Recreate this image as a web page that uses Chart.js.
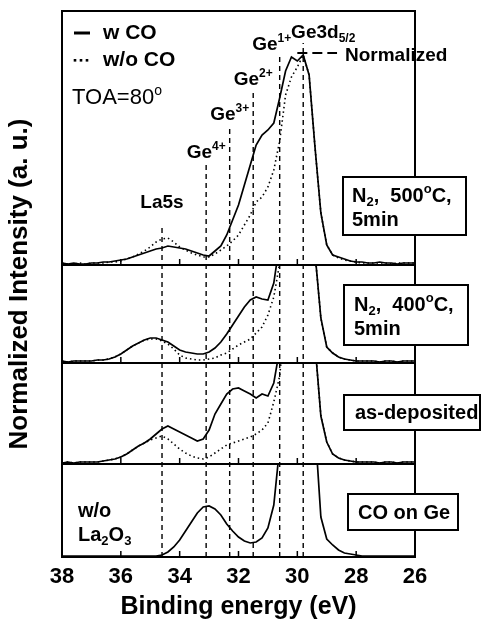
<!DOCTYPE html>
<html>
<head>
<meta charset="utf-8">
<script src="https://cdn.jsdelivr.net/npm/chart.js@4.4.0/dist/chart.umd.min.js"></script>
<style>
  html, body { margin: 0; padding: 0; background: #fff; }
</style>
</head>
<body>
<canvas id="myChart" width="483" height="623"></canvas>
<script>
// binding energy grid (eV)
var energy = [
  38.0, 37.8, 37.6, 37.4, 37.2, 37.0, 36.8, 36.6, 36.4, 36.2,
  36.0, 35.8, 35.6, 35.4, 35.2, 35.0, 34.8, 34.6, 34.4, 34.2,
  34.0, 33.8, 33.6, 33.4, 33.2, 33.0, 32.8, 32.6, 32.4, 32.2,
  32.0, 31.8, 31.6, 31.4, 31.2, 31.0, 30.8, 30.6, 30.4, 30.2,
  30.0, 29.8, 29.6, 29.4, 29.2, 29.0, 28.8, 28.6, 28.4, 28.2,
  28.0, 27.8, 27.6, 27.4, 27.2, 27.0, 26.8, 26.6, 26.4, 26.2,
  26.0
];

// N2 500C 5min
var n500_wCO = [
  2, 1, 2, 1, 1, 2, 2, 3, 3, 4,
  5, 6, 8, 10, 12, 14, 16, 17, 19, 18,
  17, 16, 14, 12, 10, 9, 14, 19, 30, 45,
  60, 80, 100, 120, 130, 135, 142, 167, 194, 208,
  204, 210, 190, 118, 52, 20, 10, 8, 6, 4,
  3, 3, 2, 2, 3, 2, 2, 1, 2, 2,
  2
];
var n500_woCO = [
  2, 1, 1, 2, 1, 2, 2, 2, 3, 3,
  4, 6, 8, 11, 14, 18, 23, 26, 27, 23,
  18, 15, 12, 10, 8, 8, 11, 15, 19, 24,
  30, 40, 50, 63, 68, 78, 95, 124, 170, 188,
  198, 210, 190, 118, 52, 20, 10, 7, 5, 4,
  3, 2, 2, 2, 2, 2, 1, 2, 2, 2,
  2
];

// N2 400C 5min
var n400_wCO = [
  2, 1, 2, 2, 2, 2, 3, 3, 4, 6,
  9, 13, 17, 20, 23, 25, 25, 23, 21, 17,
  13, 11, 10, 9, 9, 11, 15, 21, 29, 38,
  47, 56, 63, 66, 64, 63, 80, 120, 180, 250,
  300, 320, 280, 110, 45, 16, 10, 6, 4, 3,
  2, 2, 2, 2, 1, 2, 2, 1, 2, 2,
  2
];
var n400_woCO = [
  2, 1, 2, 2, 2, 2, 3, 3, 4, 6,
  9, 13, 17, 20, 23, 24, 24, 22, 19, 14,
  8, 5, 4, 3, 3, 4, 5, 8, 10, 14,
  18, 21, 24, 30, 36, 48, 66, 100, 170, 250,
  300, 320, 280, 110, 45, 16, 10, 6, 4, 3,
  2, 2, 2, 2, 1, 2, 2, 1, 2, 2,
  2
];

// as-deposited
var asdep_wCO = [
  1, 2, 1, 2, 2, 2, 2, 3, 4, 5,
  7, 10, 14, 18, 21, 25, 30, 35, 38, 35,
  32, 29, 26, 23, 25, 34, 50, 60, 70, 75,
  76, 73, 70, 66, 70, 68, 81, 115, 180, 250,
  300, 320, 280, 120, 48, 22, 10, 6, 4, 3,
  2, 2, 2, 2, 1, 2, 2, 1, 2, 2,
  2
];
var asdep_woCO = [
  1, 2, 1, 2, 2, 2, 2, 3, 4, 5,
  7, 10, 14, 18, 21, 24, 26, 28, 25, 20,
  15, 11, 8, 6, 5, 7, 11, 15, 19, 21,
  23, 25, 27, 30, 34, 41, 62, 88, 150, 250,
  300, 320, 280, 120, 48, 22, 10, 6, 4, 3,
  2, 2, 2, 2, 1, 2, 2, 1, 2, 2,
  2
];

// CO on Ge (w/o La2O3)
var coOnGe = [
  1, 1, 1, 1, 1, 1, 1, 1, 1, 1,
  1, 1, 1, 1, 1, 1, 1, 2, 5, 10,
  17, 26, 35, 44, 50, 51, 48, 42, 33, 26,
  20, 16, 14, 15, 19, 29, 52, 110, 250, 400,
  450, 460, 400, 130, 40, 18, 12, 7, 4, 3,
  2, 1, 1, 1, 1, 1, 1, 1, 1, 1,
  1
];

var peakEnergy = [34.6, 33.1, 32.3, 31.5, 30.6, 29.8];
var peakLabels = ['La5s', 'Ge^{4+}', 'Ge^{3+}', 'Ge^{2+}', 'Ge^{1+}', 'Ge3d_{5/2}'];
var xTicks = [38, 36, 34, 32, 30, 28, 26];
var panelLabels = [
  ['N_{2},  500^{o}C,', '5min'],
  ['N_{2},  400^{o}C,', '5min'],
  ['as-deposited'],
  ['CO on Ge']
];
var legendLabels = ['w CO', 'w/o CO'];

var FONT = '"Liberation Sans", Arial, sans-serif';

// panel stacking (y units, bottom panel first is 0)
var panelBase = [292, 194, 93, 0];
var panelTop = [546, 292, 194, 93];
var lineTop = [332, 395, 430, 467, 500, 514];

function shifted(vals, p) {
  return energy.map(function(e, i) { return {x: e, y: panelBase[p] + vals[i]}; });
}

var datasets = [];
var solids = [[n500_wCO, 0], [n400_wCO, 1], [asdep_wCO, 2], [coOnGe, 3]];
var dots = [[n500_woCO, 0], [n400_woCO, 1], [asdep_woCO, 2]];
solids.forEach(function(s) {
  datasets.push({data: shifted(s[0], s[1]), panel: s[1], borderColor: '#000', borderWidth: 1.7,
    pointRadius: 0, tension: 0, fill: false});
});
dots.forEach(function(s) {
  datasets.push({data: shifted(s[0], s[1]), panel: s[1], borderColor: '#000', borderWidth: 1.6,
    borderDash: [1.5, 3], pointRadius: 0, tension: 0, fill: false});
});
peakEnergy.forEach(function(e, i) {
  datasets.push({data: [{x: e, y: 0}, {x: e, y: lineTop[i]}], borderColor: '#000', borderWidth: 1.4,
    borderDash: [5, 4], pointRadius: 0, fill: false});
});
// "Normalized" marker
datasets.push({data: [{x: 30.0, y: 504}, {x: 28.65, y: 504}], borderColor: '#000', borderWidth: 2,
  borderDash: [10, 5], pointRadius: 0, fill: false});

function parseRich(s) {
  var parts = [], re = /([_^])\{([^}]*)\}/g, last = 0, m;
  while ((m = re.exec(s))) {
    if (m.index > last) parts.push({t: s.slice(last, m.index), k: ''});
    parts.push({t: m[2], k: m[1]});
    last = re.lastIndex;
  }
  if (last < s.length) parts.push({t: s.slice(last), k: ''});
  return parts;
}

function drawRich(ctx, str, x, y, size, weight, align) {
  var parts = parseRich(str);
  var small = Math.round(size * 0.65);
  var w = 0;
  parts.forEach(function(pt) {
    ctx.font = weight + ' ' + (pt.k ? small : size) + 'px ' + FONT;
    pt.w = ctx.measureText(pt.t).width;
    w += pt.w;
  });
  var cx = align === 'center' ? x - w / 2 : x;
  ctx.textBaseline = 'middle';
  ctx.textAlign = 'left';
  ctx.fillStyle = '#000';
  parts.forEach(function(pt) {
    ctx.font = weight + ' ' + (pt.k ? small : size) + 'px ' + FONT;
    var dy = pt.k === '^' ? -size * 0.33 : (pt.k === '_' ? size * 0.3 : 0);
    ctx.fillText(pt.t, cx, y + dy);
    cx += pt.w;
  });
}

var panelClip = {
  id: 'panelClip',
  beforeDatasetDraw: function(chart, args) {
    var ds = chart.data.datasets[args.index];
    if (ds.panel == null) return;
    var ca = chart.chartArea, ys = chart.scales.y;
    var y0 = ys.getPixelForValue(panelTop[ds.panel]);
    var y1 = ys.getPixelForValue(panelBase[ds.panel]);
    chart.ctx.save();
    chart.ctx.beginPath();
    chart.ctx.rect(ca.left, y0, ca.right - ca.left, y1 - y0);
    chart.ctx.clip();
  },
  afterDatasetDraw: function(chart, args) {
    var ds = chart.data.datasets[args.index];
    if (ds.panel == null) return;
    chart.ctx.restore();
  }
};

var decor = {
  id: 'decor',
  afterDatasetsDraw: function(chart) {
    var ctx = chart.ctx, ca = chart.chartArea, xs = chart.scales.x, ys = chart.scales.y;
    ctx.save();
    ctx.strokeStyle = '#000';
    ctx.lineWidth = 2;
    ctx.strokeRect(ca.left, ca.top, ca.right - ca.left, ca.bottom - ca.top);
    // panel separators + inward ticks
    panelBase.forEach(function(b) {
      var y = ys.getPixelForValue(b);
      ctx.lineWidth = 2;
      ctx.beginPath(); ctx.moveTo(ca.left, y); ctx.lineTo(ca.right, y); ctx.stroke();
      ctx.lineWidth = 1.5;
      xTicks.slice(1, -1).forEach(function(v) {
        var x = xs.getPixelForValue(v);
        ctx.beginPath(); ctx.moveTo(x, y); ctx.lineTo(x, y - 6); ctx.stroke();
      });
    });

    // peak labels
    var lab = [[0, 203], [0, 153], [0, 115], [0, 80], [-8, 45], [20, 33]];
    peakLabels.forEach(function(t, i) {
      drawRich(ctx, t, xs.getPixelForValue(peakEnergy[i]) + lab[i][0], lab[i][1], 19, 'bold', 'center');
    });
    drawRich(ctx, 'Normalized', 345, 56, 19, 'bold', 'left');

    // legend
    ctx.lineWidth = 3;
    ctx.beginPath(); ctx.moveTo(74, 33); ctx.lineTo(90, 33); ctx.stroke();
    [75, 81, 87].forEach(function(x) { ctx.fillRect(x - 1.3, 59, 2.6, 2.6); });
    drawRich(ctx, legendLabels[0], 103, 33, 21, 'bold', 'left');
    drawRich(ctx, legendLabels[1], 103, 60, 21, 'bold', 'left');
    drawRich(ctx, 'TOA=80^{o}', 72, 98, 22, 'normal', 'left');

    // sample boxes
    var boxes = [
      [343, 177, 123, 58, 352, [196, 220]],
      [344, 285, 124, 60, 354, [305, 329]],
      [344, 395, 136, 35, 355, [413]],
      [348, 494, 110, 36, 358, [513]]
    ];
    boxes.forEach(function(b, i) {
      ctx.fillStyle = '#fff';
      ctx.fillRect(b[0], b[1], b[2], b[3]);
      ctx.lineWidth = 2;
      ctx.strokeRect(b[0], b[1], b[2], b[3]);
      panelLabels[i].forEach(function(t, j) {
        drawRich(ctx, t, b[4], b[5][j], 20, 'bold', 'left');
      });
    });

    drawRich(ctx, 'w/o', 78, 511, 20, 'bold', 'left');
    drawRich(ctx, 'La_{2}O_{3}', 78, 535, 20, 'bold', 'left');
    ctx.restore();
  }
};

new Chart(document.getElementById('myChart').getContext('2d'), {
  type: 'line',
  data: {datasets: datasets},
  plugins: [panelClip, decor],
  options: {
    responsive: false,
    animation: false,
    layout: {padding: {top: 11, right: 68, left: 0, bottom: 0}},
    plugins: {legend: {display: false}, tooltip: {enabled: false}},
    scales: {
      x: {
        type: 'linear', reverse: true, min: 26, max: 38,
        afterBuildTicks: function(s) { s.ticks = xTicks.map(function(v) { return {value: v}; }); },
        ticks: {font: {family: FONT, size: 22, weight: 'bold'}, color: '#000', padding: 7},
        grid: {display: false, drawTicks: false},
        border: {display: false},
        title: {display: true, text: 'Binding energy (eV)', color: '#000',
          font: {family: FONT, size: 25, weight: 'bold'}, padding: {top: 0, bottom: 1}},
        afterFit: function(s) { s.height = 66; }
      },
      y: {
        min: 0, max: 546,
        ticks: {display: false},
        grid: {display: false},
        border: {display: false},
        title: {display: true, text: 'Normalized Intensity (a. u.)', color: '#000',
          font: {family: FONT, size: 26, weight: 'bold'}, padding: {top: 4, bottom: 0}},
        afterFit: function(s) { s.width = 62; }
      }
    }
  }
});
</script>
</body>
</html>
